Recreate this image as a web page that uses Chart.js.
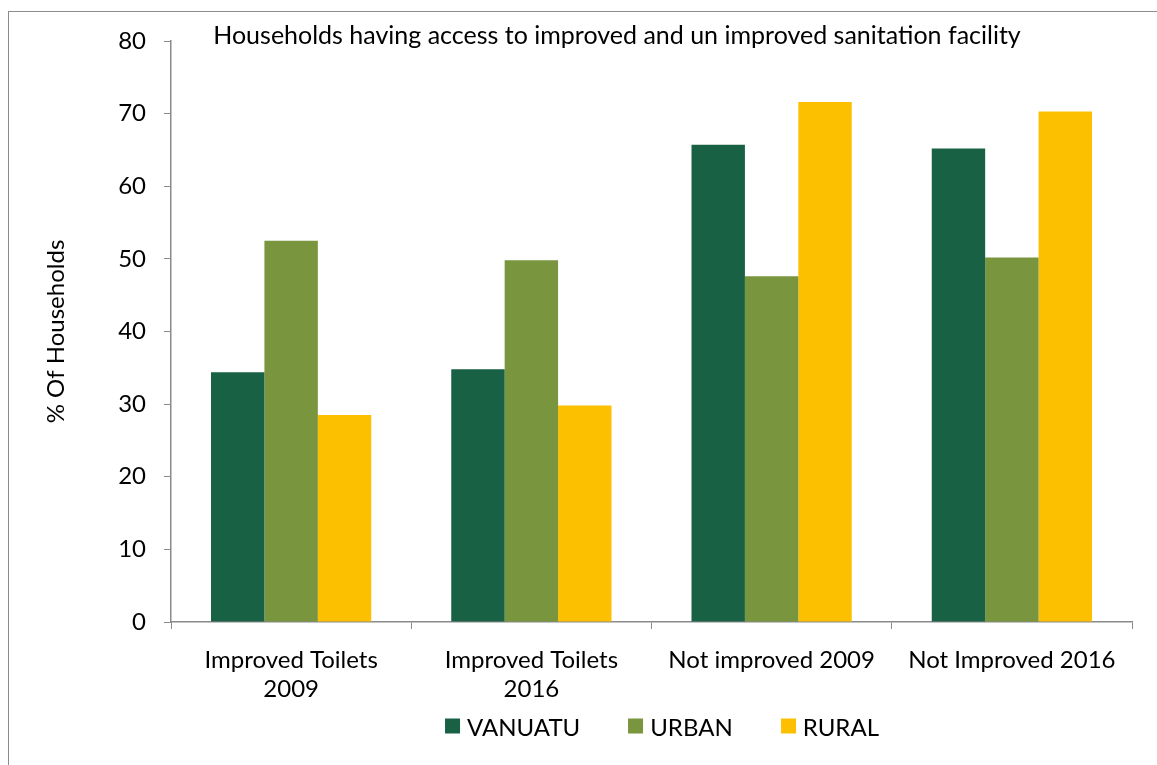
<!DOCTYPE html>
<html>
<head>
<meta charset="utf-8">
<script src="https://cdn.jsdelivr.net/npm/chart.js@4"></script>
<style>
    html, body { margin: 0; padding: 0; background: #fff; overflow: hidden; }
    #frame {
        position: absolute; left: 8px; top: 11px; width: 1200px; height: 800px;
        border-left: 1px solid #8c8c8c; border-top: 1px solid #8c8c8c;
    }
    #sanitationChart { position: absolute; left: 0; top: 0; }
    #legend {
        position: absolute; left: 662px; top: 726px;
        transform: translate(-50%, -50%);
        display: flex; gap: 48px;
        font: 24px Lato, "Open Sans", sans-serif; color: #000;
        white-space: nowrap;
    }
    #legend .item { display: flex; align-items: center; }
    #legend .box { width: 15px; height: 15px; margin-right: 7px; }
</style>
</head>
<body>
<div id="frame"></div>
<canvas id="sanitationChart" width="1157" height="765"></canvas>
<div id="legend"></div>
<script>
// Categories and the three survey series (% of households)
const categories = [
    ['Improved Toilets', '2009'],
    ['Improved Toilets', '2016'],
    'Not improved 2009',
    'Not Improved 2016'
];
const vanuatu = [34.4, 34.8, 65.7, 65.2];
const urban   = [52.5, 49.8, 47.6, 50.2];
const rural   = [28.5, 29.8, 71.6, 70.3];
const yTicks  = [0, 10, 20, 30, 40, 50, 60, 70, 80];

const chartTitle = 'Households having access to improved and un improved sanitation facility';
const fontFamily = 'Lato, "Open Sans", sans-serif';
const axisGray = '#8a8a8a';

// Title sits inside the plot, level with the top tick
const titlePlugin = {
    id: 'insideTitle',
    afterDraw(chart) {
        const ctx = chart.ctx;
        ctx.save();
        ctx.font = '25px ' + fontFamily;
        ctx.fillStyle = '#000';
        ctx.textAlign = 'center';
        ctx.textBaseline = 'middle';
        ctx.fillText(chartTitle, 617, 36);
        ctx.restore();
    }
};

const ctx = document.getElementById('sanitationChart').getContext('2d');

const chart = new Chart(ctx, {
    type: 'bar',
    data: {
        labels: categories,
        datasets: [
            { label: 'VANUATU', data: vanuatu, backgroundColor: '#186144' },
            { label: 'URBAN',   data: urban,   backgroundColor: '#79953d' },
            { label: 'RURAL',   data: rural,   backgroundColor: '#fdc000' }
        ]
    },
    options: {
        responsive: false,
        animation: false,
        datasets: {
            bar: { categoryPercentage: 0.667, barPercentage: 1.0 }
        },
        layout: { padding: { top: 41, right: 25, left: 0, bottom: 51 } },
        plugins: {
            legend: { display: false },
            tooltip: { enabled: false }
        },
        scales: {
            x: {
                grid: {
                    offset: true,
                    drawOnChartArea: false,
                    tickLength: 7,
                    color: axisGray
                },
                border: { color: axisGray, width: 1.5 },
                ticks: {
                    color: '#000',
                    padding: 17,
                    maxRotation: 0,
                    font: { family: fontFamily, size: 24, lineHeight: 1.2 }
                },
                afterFit(scale) { scale.height = 92; }
            },
            y: {
                min: 0,
                max: 80,
                afterBuildTicks(scale) { scale.ticks = yTicks.map(v => ({ value: v })); },
                grid: {
                    drawOnChartArea: false,
                    tickLength: 7,
                    color: axisGray
                },
                border: { color: axisGray, width: 1.5 },
                ticks: {
                    color: '#000',
                    padding: 18,
                    font: { family: fontFamily, size: 24 }
                },
                title: {
                    display: true,
                    text: '% Of Households',
                    color: '#000',
                    padding: { top: 42 },
                    font: { family: fontFamily, size: 24 }
                },
                afterFit(scale) { scale.width = 171; }
            }
        }
    },
    plugins: [titlePlugin]
});

// Legend built from the datasets as plain HTML below the axis
const legendEl = document.getElementById('legend');
chart.data.datasets.forEach(ds => {
    const item = document.createElement('div');
    item.className = 'item';
    item.innerHTML = `<span class="box" style="background:${ds.backgroundColor}"></span><span>${ds.label}</span>`;
    legendEl.appendChild(item);
});
</script>
</body>
</html>
